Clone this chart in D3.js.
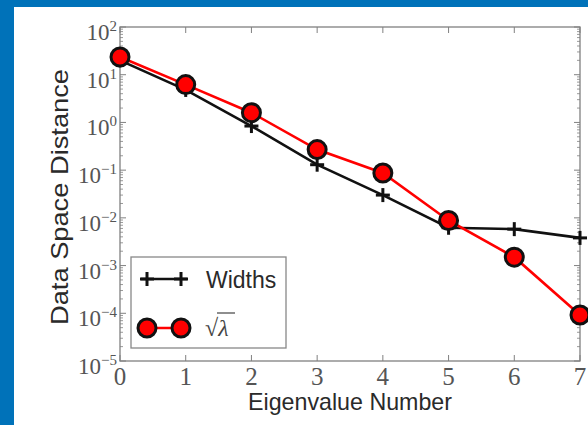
<!DOCTYPE html>
<html><head><meta charset="utf-8">
<script src="https://cdn.jsdelivr.net/npm/d3@7"></script>
<style>html,body{margin:0;padding:0;background:#0072b9;overflow:hidden}</style>
</head><body>
<svg id="c" width="588" height="425"></svg>
<script>
const eigenNumbers = [0,1,2,3,4,5,6,7];
const widths = [20, 4.8, 0.84, 0.13, 0.03, 0.0062, 0.0058, 0.0038];
const sqrtLambda = [23.5, 6.2, 1.6, 0.27, 0.087, 0.0088, 0.0015, 0.000092];
const xTicks = [0,1,2,3,4,5,6,7];
const yExponents = [2,1,0,-1,-2,-3,-4,-5];
const legendLabels = ["Widths", "√λ"];
const xLabel = "Eigenvalue Number";
const yLabel = "Data Space Distance";

const svg = d3.select("#c");
svg.append("rect").attr("x",0).attr("y",0).attr("width",588).attr("height",425).attr("fill","#0072b9");
svg.append("rect").attr("x",14).attr("y",7).attr("width",574).attr("height",418).attr("fill","#ffffff");

const L=120,R=580,T=27,B=361;
const x = d3.scaleLinear().domain([0,7]).range([L,R]);
const y = d3.scaleLog().domain([1e-5,1e2]).range([B,T]);
const axisCol="#808080", textCol="#2a2a2a";

const g = svg.append("g");
const minor=[];
for(let e=-5;e<2;e++) for(let m=2;m<=9;m++) minor.push(m*Math.pow(10,e));
g.selectAll(".mn").data(minor).join("line")
 .attr("x1",L).attr("x2",L+3).attr("y1",d=>y(d)).attr("y2",d=>y(d)).attr("stroke",axisCol).attr("stroke-width",0.8);
g.selectAll(".mnr").data(minor).join("line")
 .attr("x1",R).attr("x2",R-3).attr("y1",d=>y(d)).attr("y2",d=>y(d)).attr("stroke",axisCol).attr("stroke-width",0.8);
const major = yExponents.map(e=>Math.pow(10,e));
g.selectAll(".mj").data(major).join("line")
 .attr("x1",L).attr("x2",L+6).attr("y1",d=>y(d)).attr("y2",d=>y(d)).attr("stroke",axisCol).attr("stroke-width",1);
g.selectAll(".mjr").data(major).join("line")
 .attr("x1",R).attr("x2",R-6).attr("y1",d=>y(d)).attr("y2",d=>y(d)).attr("stroke",axisCol).attr("stroke-width",1);
g.selectAll(".xb").data(xTicks).join("line")
 .attr("x1",d=>x(d)).attr("x2",d=>x(d)).attr("y1",B).attr("y2",B-6).attr("stroke",axisCol);
g.selectAll(".xt").data(xTicks).join("line")
 .attr("x1",d=>x(d)).attr("x2",d=>x(d)).attr("y1",T).attr("y2",T+6).attr("stroke",axisCol);
g.append("rect").attr("x",L).attr("y",T).attr("width",R-L).attr("height",B-T)
 .attr("fill","none").attr("stroke",axisCol).attr("stroke-width",1.3);

const serif="'Liberation Serif', 'DejaVu Serif', serif";
const sans="'Liberation Sans', Arial, sans-serif";
g.selectAll(".xl").data(xTicks).join("text")
 .attr("x",d=>x(d)).attr("y",385).attr("text-anchor","middle")
 .attr("font-family",serif).attr("font-size",25).attr("fill","#555").text(d=>d);
const yl = g.selectAll(".yl").data(yExponents).join("text")
 .attr("x",117).attr("y",d=>y(Math.pow(10,d))+13).attr("text-anchor","end")
 .attr("font-family",serif).attr("fill","#555");
yl.append("tspan").attr("font-size",23).text("10");
yl.append("tspan").attr("font-size",15).attr("dy",-9).text(d=> d<0 ? "\u2212"+(-d) : d);

svg.append("text").attr("x",350).attr("y",410).attr("text-anchor","middle")
 .attr("font-family",sans).attr("font-size",24).attr("textLength",204).attr("lengthAdjust","spacingAndGlyphs")
 .attr("fill",textCol).text(xLabel);
svg.append("text").attr("transform",`translate(68,197) rotate(-90)`).attr("text-anchor","middle")
 .attr("font-family",sans).attr("font-size",24).attr("textLength",256).attr("lengthAdjust","spacingAndGlyphs")
 .attr("fill",textCol).text(yLabel);

const line = (arr)=>d3.line().x((d,i)=>x(eigenNumbers[i])).y(d=>y(d))(arr);
const plot = svg.append("g");
plot.append("path").attr("d",line(widths)).attr("fill","none").attr("stroke","#111").attr("stroke-width",2.6);
plot.append("path").attr("d",line(sqrtLambda)).attr("fill","none").attr("stroke","#ff0000").attr("stroke-width",2.6);
const plus = (sel,px,py,s)=>{
  sel.append("line").attr("x1",px-s).attr("x2",px+s).attr("y1",py).attr("y2",py).attr("stroke","#111").attr("stroke-width",3);
  sel.append("line").attr("x1",px).attr("x2",px).attr("y1",py-s).attr("y2",py+s).attr("stroke","#111").attr("stroke-width",3);
};
widths.forEach((v,i)=>plus(plot,x(eigenNumbers[i]),y(v),7));
plot.selectAll(".dot").data(sqrtLambda).join("circle")
 .attr("cx",(d,i)=>x(eigenNumbers[i])).attr("cy",d=>y(d)).attr("r",9)
 .attr("fill","#ff0000").attr("stroke","#111").attr("stroke-width",3);

const lg = svg.append("g");
lg.append("rect").attr("x",131).attr("y",257).attr("width",155).attr("height",91)
 .attr("fill","#fff").attr("stroke","#888").attr("stroke-width",1.3);
lg.append("line").attr("x1",141).attr("x2",187).attr("y1",279).attr("y2",279).attr("stroke","#111").attr("stroke-width",2.6);
plus(lg,147,279,7); plus(lg,181,279,7);
lg.append("text").attr("x",206).attr("y",288).attr("font-family",sans)
 .attr("font-size",23).attr("fill",textCol).text(legendLabels[0]);
lg.append("line").attr("x1",147).attr("x2",181).attr("y1",328).attr("y2",328).attr("stroke","#ff0000").attr("stroke-width",2.6);
lg.selectAll(".ld").data([147,181]).join("circle").attr("cx",d=>d).attr("cy",328).attr("r",9)
 .attr("fill","#ff0000").attr("stroke","#111").attr("stroke-width",3);
const sq = lg.append("text").attr("x",205).attr("y",336).attr("font-family",serif).attr("font-size",24).attr("fill","#444");
sq.append("tspan").text(legendLabels[1][0]);
sq.append("tspan").attr("font-style","italic").text(legendLabels[1].slice(1));
lg.append("line").attr("x1",217).attr("x2",235).attr("y1",313).attr("y2",313).attr("stroke","#444").attr("stroke-width",1.2);
</script>
</body></html>
